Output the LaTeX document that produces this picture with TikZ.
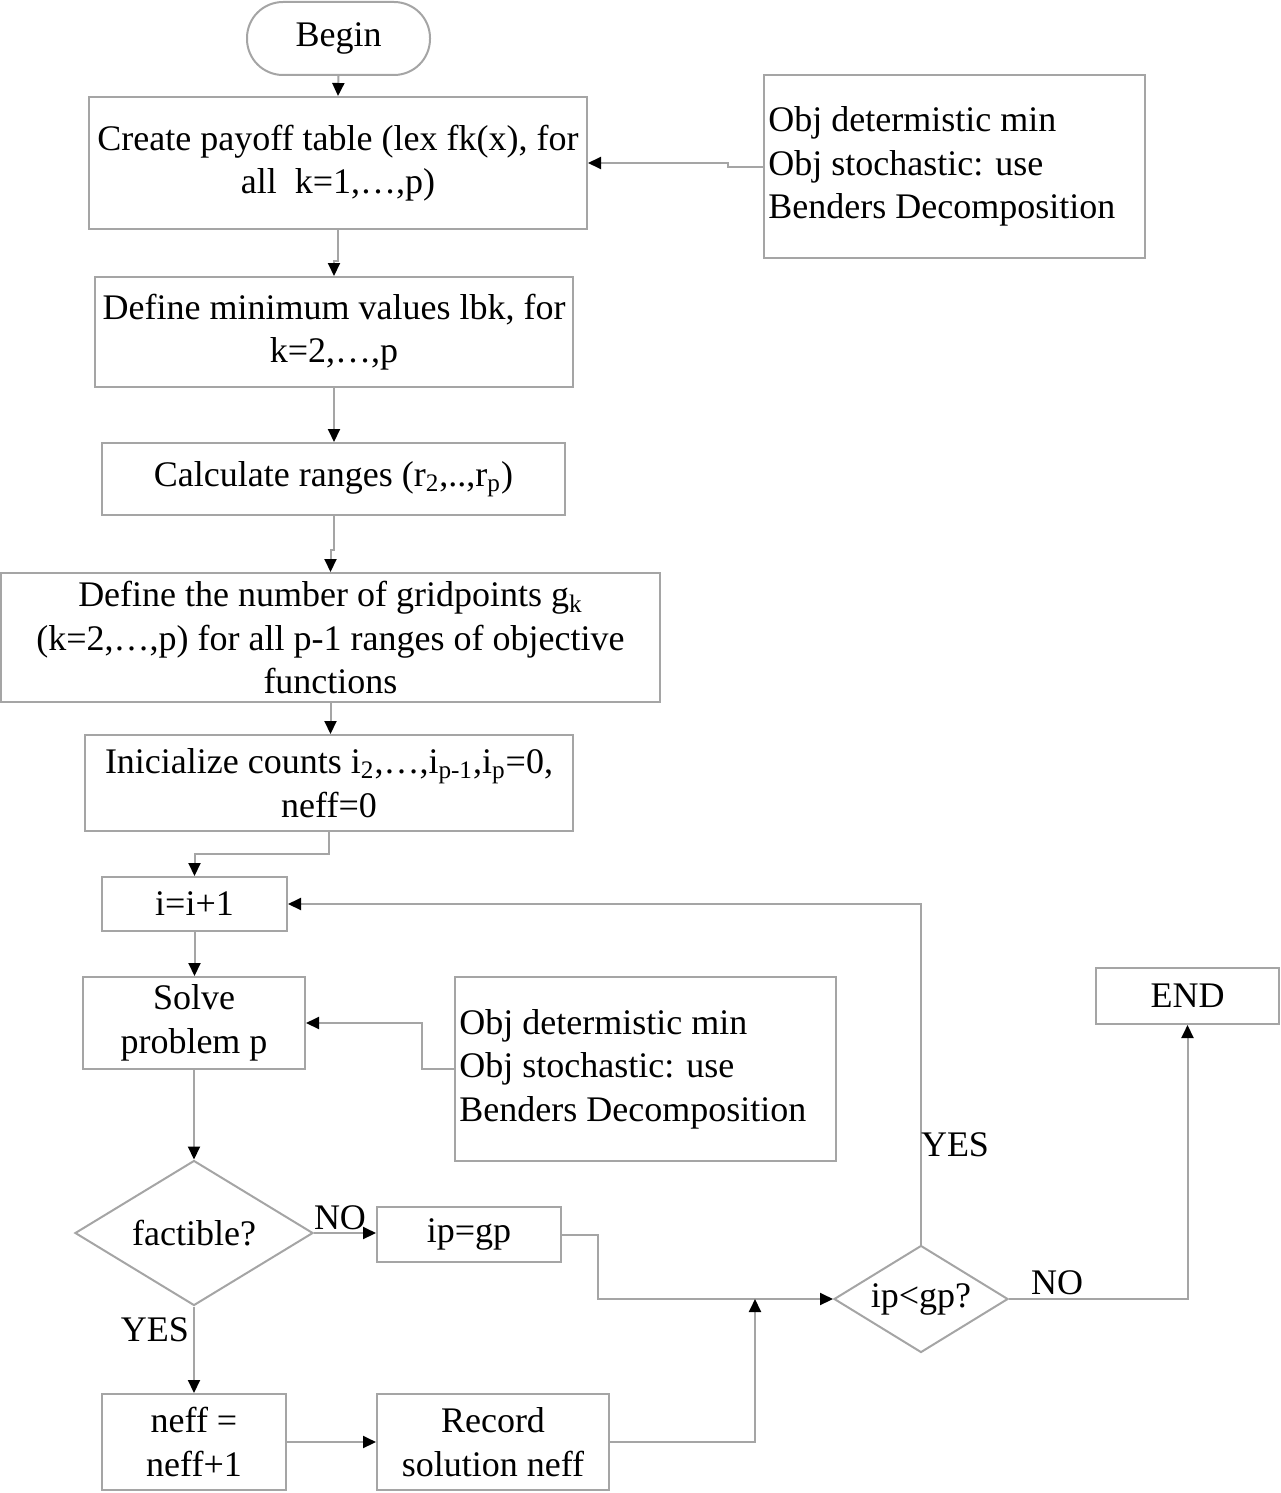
\documentclass[tikz,border=0pt]{standalone}
\usepackage{fontspec}
\setmainfont{Liberation Serif}
\usetikzlibrary{arrows.meta,shapes.geometric}
\definecolor{linegray}{RGB}{165,165,165}
\tikzset{
  every node/.style={font=\fontsize{18pt}{21.75pt}\selectfont, text=black},
  box/.style={draw=linegray, line width=1pt, rectangle, inner sep=0pt, align=center},
  notetext/.style={anchor=west, inner sep=0pt, align=left},
  decision/.style={draw=linegray, line width=1pt, diamond, inner sep=0pt, align=center},
  conn/.style={draw=linegray, line width=1pt, -{Triangle[length=6.5pt,width=6pt,color=black]}},
  lbl/.style={inner sep=0pt}
}
\begin{document}
\begin{tikzpicture}[x=0.5pt,y=-0.5pt]
\useasboundingbox (0,0) rectangle (1280,1493);
% nodes
\node[box, rounded corners=18pt, minimum width=91.5pt, minimum height=36.5pt] (begin) at (338.5,38.5) {Begin};
\node[box, minimum width=249pt, minimum height=66pt] (payoff) at (338,163) {Create payoff table (lex fk(x), for\\all \ k=1,…,p)};
\node[box, minimum width=190.5pt, minimum height=91.5pt] (obj1) at (954.5,166.5) {};
\node[notetext] (obj1t) at ([xshift=2.5pt]obj1.west) {Obj determistic min\\Obj stochastic: use\\Benders Decomposition};
\node[box, minimum width=239pt, minimum height=55pt] (lbk) at (334,332) {Define minimum values lbk, for\\k=2,…,p};
\node[box, minimum width=231.5pt, minimum height=36pt] (ranges) at (333.5,479) {Calculate ranges (r\textsubscript{2},..,r\textsubscript{p})};
\node[box, minimum width=329.5pt, minimum height=64.5pt] (grid) at (330.5,637.5) {Define the number of gridpoints g\textsubscript{k}\\(k=2,…,p) for all p-1 ranges of objective\\functions};
\node[box, minimum width=244pt, minimum height=48pt] (init) at (329,783) {Inicialize counts i\textsubscript{2},…,i\textsubscript{p-1},i\textsubscript{p}=0,\\neff=0};
\node[box, minimum width=92.5pt, minimum height=27pt] (inc) at (194.5,904) {i=i+1};
\node[box, minimum width=111pt, minimum height=46pt] (solve) at (194,1023) {Solve\\problem p};
\node[box, minimum width=190.5pt, minimum height=92pt] (obj2) at (645.5,1069) {};
\node[notetext] (obj2t) at ([xshift=2.5pt]obj2.west) {Obj determistic min\\Obj stochastic: use\\Benders Decomposition};
\node[decision, aspect=1.64, minimum width=119pt, minimum height=72.5pt] (fact) at (194,1233) {factible?};
\node[box, minimum width=92pt, minimum height=27.5pt] (ipeq) at (469,1234.5) {ip=gp};
\node[box, minimum width=92pt, minimum height=48pt] (neff) at (194,1442) {neff =\\neff+1};
\node[box, minimum width=116pt, minimum height=48pt] (record) at (493,1442) {Record\\solution neff};
\node[decision, aspect=1.63, minimum width=87pt, minimum height=53.5pt] (ipgp) at (921,1299) {ip<gp?};
\node[box, minimum width=91.5pt, minimum height=28pt] (endbox) at (1187.5,996) {END};
\coordinate (join) at (755,1299);
% connectors
\draw[conn] (begin.south) -- (payoff.north);
\draw[conn] (obj1.west) -- ++(-35,0) |- (payoff.east);
\draw[conn] (payoff.south) -- ++(0,31) -| (lbk.north);
\draw[conn] (lbk.south) -- (lbk.south |- ranges.north);
\draw[conn] (ranges.south) -- ++(0,34) -| (grid.north);
\draw[conn] (grid.south) -- (grid.south |- init.north);
\draw[conn] (init.south) -- ++(0,22) -| (inc.north);
\draw[conn] (inc.south) -- (inc.south |- solve.north);
\draw[conn] (obj2.west) -- ++(-32,0) |- (solve.east);
\draw[conn] (solve.south) -- (fact.north);
\draw[conn] (fact.east) -- (fact.east -| ipeq.west);
\draw[conn] (ipeq.east) -- ++(36,0) |- (ipgp.west);
\draw[conn] (fact.south) -- (neff.north);
\draw[conn] (neff.east) -- (record.west);
\draw[conn] (record.east) -| (join);
\draw[conn] (ipgp.north) |- (inc.east);
\draw[conn] (ipgp.east) -| (endbox.south);
% labels
\node[lbl] (lno1) at (340,1218) {NO};
\node[lbl] (lyes1) at (155,1330) {YES};
\node[lbl] (lyes2) at (955,1145) {YES};
\node[lbl] (lno2) at (1057,1283) {NO};
\end{tikzpicture}
\end{document}
